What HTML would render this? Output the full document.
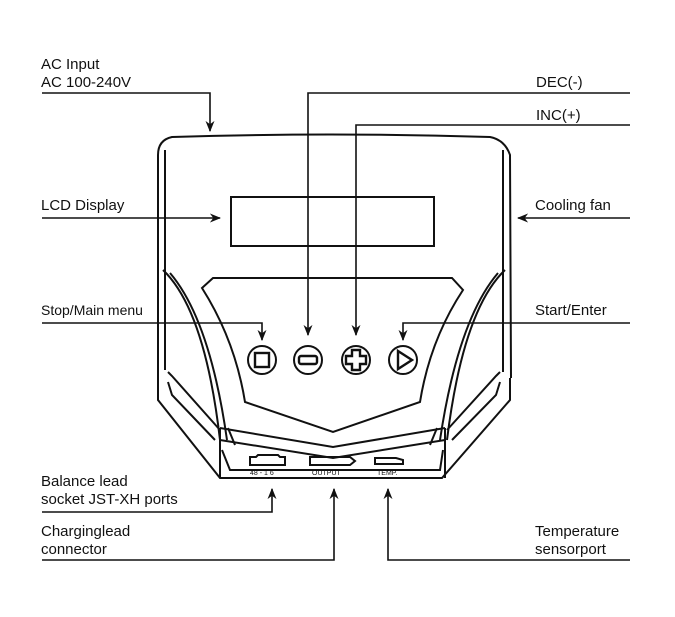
<!DOCTYPE html>
<html><head><style>
html,body{margin:0;padding:0;background:#fff;}
svg{display:block}
text{font-family:"Liberation Sans",sans-serif;font-size:15px;fill:#111}
</style></head><body>
<svg width="675" height="617" viewBox="0 0 675 617" xmlns="http://www.w3.org/2000/svg">
<defs><marker id="a" viewBox="0 0 10 10" refX="9" refY="5" markerWidth="7" markerHeight="7" orient="auto"><path d="M0,1 L10,5 L0,9 L3,5 Z" fill="#111"/></marker></defs>
<g fill="none" stroke="#111" stroke-width="2">
<path d="M158,372 L158,155 Q158,140 172,137 Q330,132 490,137 Q505,140 510,155 L511,378"/>
<path d="M165,150 L165,370 M503,150 L503,372"/>
<rect x="231" y="197" width="203" height="49"/>
<path d="M202,288 L213,278 L452,278 L463,290 Q430,340 420,402 L333,432 L245,402 Q235,340 202,288 Z"/>
<path d="M163,270 Q205,310 220,440 M170,273 Q210,320 227,440"/>
<path d="M505,270 Q463,310 447,440 M498,273 Q458,320 440,440"/>
<path d="M168,372 L172,376 L220,430 M168,382 L172,395 L215,440"/>
<path d="M500,372 L496,376 L447,430 M500,382 L496,395 L452,440"/>
<path d="M158,372 L158,400 L220,478 L442,478 L510,400 L510,378"/>
<path d="M220,428 L333,447 L445,428 M220,440 L333,458 L445,440"/>
<path d="M220,428 L220,478 M445,428 L445,478 M228,428 L235,445 M437,428 L430,445"/>
<path d="M222,450 L230,470 L440,470 L443,450"/>
<path d="M250,457 L250,465 L285,465 L285,457 L280,457 L278,455 L258,455 L256,457 Z"/>
<path d="M310,457 L310,465 L350,465 L355,461 L350,457 Z"/>
<path d="M375,458 L375,464 L403,464 L403,460 L396,458 Z"/>
<circle cx="262" cy="360" r="14"/><rect x="255" y="353" width="14" height="14" stroke-width="2.4"/>
<circle cx="308" cy="360" r="14"/><rect x="299" y="356" width="18" height="8" rx="2" stroke-width="2.4"/>
<circle cx="356" cy="360" r="14"/><path d="M352,350 h8 v6 h6 v8 h-6 v6 h-8 v-6 h-6 v-8 h6 Z" stroke-width="2.4"/>
<circle cx="403" cy="360" r="14"/><path d="M398,351 L412,360 L398,369 Z" stroke-width="2.4"/>
</g>
<text x="250" y="475" style="font-size:7px">48 - 1 6</text><text x="312" y="475" style="font-size:7px">OUTPUT</text><text x="377" y="475" style="font-size:7px">TEMP.</text>
<g fill="none" stroke="#111" stroke-width="1.6">
<path d="M42,93 L210,93 L210,131" marker-end="url(#a)"/>
<path d="M630,93 L308,93 L308,335" marker-end="url(#a)"/>
<path d="M630,125 L356,125 L356,335" marker-end="url(#a)"/>
<path d="M42,218 L220,218" marker-end="url(#a)"/>
<path d="M630,218 L518,218" marker-end="url(#a)"/>
<path d="M42,323 L262,323 L262,340" marker-end="url(#a)"/>
<path d="M630,323 L403,323 L403,340" marker-end="url(#a)"/>
<path d="M42,512 L272,512 L272,489" marker-end="url(#a)"/>
<path d="M42,560 L334,560 L334,489" marker-end="url(#a)"/>
<path d="M630,560 L388,560 L388,489" marker-end="url(#a)"/>
</g>
<text x="41" y="69">AC Input</text>
<text x="41" y="87">AC 100-240V</text>
<text x="536" y="87">DEC(-)</text>
<text x="536" y="120">INC(+)</text>
<text x="41" y="210">LCD Display</text>
<text x="535" y="210">Cooling fan</text>
<text x="41" y="315" style="font-size:14px">Stop/Main menu</text>
<text x="535" y="315">Start/Enter</text>
<text x="41" y="486">Balance lead</text>
<text x="41" y="504">socket JST-XH ports</text>
<text x="41" y="536">Charginglead</text>
<text x="41" y="554">connector</text>
<text x="535" y="536">Temperature</text>
<text x="535" y="554">sensorport</text>
</svg>
</body></html>
